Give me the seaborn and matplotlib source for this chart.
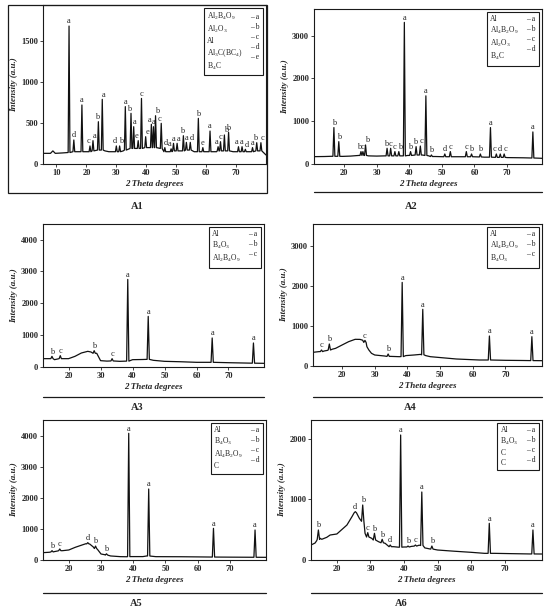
import pandas as pd
import matplotlib.pyplot as plt
import seaborn as sns
from matplotlib.lines import Line2D
from matplotlib.patches import Rectangle

# ---- A1 ----
a1_bg_x = [5.5, 8.0, 8.8, 9.6, 12.0, 13.6, 16.6, 17.6, 19.6, 20.6, 26.2, 27.5, 29.0, 29.5, 32.3, 46.9, 47.6, 51.0, 56.0, 59.6, 60.5, 62.2, 63.5, 69.0, 70.2, 74.5, 80.0]
a1_bg_y = [130, 130, 160, 130, 135, 140, 150, 150, 150, 150, 160, 150, 150, 150, 160, 150, 150, 160, 150, 150, 150, 150, 150, 150, 150, 150, 110]
a1_pk_x = [14.2, 15.8, 18.5, 21.2, 22.2, 24.0, 25.3, 30.0, 31.1, 33.0, 34.9, 35.8, 37.3, 38.4, 39.8, 41.7, 42.4, 43.1, 45.0, 46.2,
           48.3, 49.1, 50.3, 52.4, 53.4, 54.7, 57.4, 58.9, 61.3, 64.0, 64.8, 66.1, 67.5, 70.8, 72.0, 73.1, 75.5, 76.9, 78.3]
a1_pk_h = [1683, 293, 720, 220, 285, 516, 789, 220, 220, 700, 618, 455, 285, 800, 333, 484, 455, 589, 496, 200,
           185, 252, 252, 345, 264, 264, 557, 200, 402, 211, 272, 354, 386, 211, 211, 179, 200, 260, 260]
a1_pk_base = [140, 150, 150, 150, 160, 170, 170, 150, 150, 170, 190, 190, 190, 190, 200, 200, 200, 200, 190, 150,
              150, 160, 160, 160, 170, 170, 150, 150, 150, 160, 160, 160, 160, 150, 150, 150, 150, 160, 160]
a1_pk_lab = ['a', 'd', 'a', 'c', 'a', 'b', 'a', 'd', 'b', 'a', 'b', 'a', 'e', 'c', 'e', 'a', 'a', 'b', 'c', 'd',
             'a', 'a', 'a', 'b', 'a', 'd', 'b', 'e', 'a', 'a', 'c', 'b', 'b', 'a', 'a', 'd', 'a', 'b', 'c']
a1_phases = ['Al$_2$B$_4$O$_9$', 'Al$_2$O$_3$', 'Al', 'Al$_3$C(BC$_4$)', 'B$_4$C']
a1_codes = ['a', 'b', 'c', 'd', 'e']

# ---- A2 ----
a2_bg_x = [10.8, 14.0, 16.0, 19.5, 22.0, 24.5, 27.5, 30.0, 32.5, 37.5, 39.5, 44.0, 46.0, 48.0, 55.0, 63.0, 70.0, 75.0, 80.7]
a2_bg_y = [172, 175, 180, 178, 185, 200, 190, 185, 190, 190, 200, 210, 190, 175, 170, 160, 150, 145, 133]
a2_pk_x = [16.9, 18.4, 25.2, 25.8, 26.6, 33.2, 34.3, 35.6, 36.8, 38.5, 40.4, 42.1, 43.4, 45.1, 46.8, 50.9, 52.6,
           57.5, 59.1, 61.8, 64.9, 66.7, 67.9, 69.1, 77.9]
a2_pk_h = [852, 523, 290, 290, 445, 367, 367, 290, 290, 3312, 290, 406, 420, 1594, 211, 234, 290,
           290, 234, 234, 852, 234, 234, 234, 750]
a2_pk_base = [180, 180, 200, 200, 200, 190, 190, 190, 190, 190, 200, 210, 210, 200, 175, 170, 170,
              170, 170, 165, 160, 155, 155, 155, 140]
a2_pk_lab = ['b', 'b', 'b', 'c', 'b', 'b', 'c', 'c', 'b', 'a', 'b', 'b', 'c', 'a', 'b', 'd', 'c',
             'c', 'b', 'b', 'a', 'c', 'd', 'c', 'a']
a2_phases = ['Al', 'Al$_4$B$_2$O$_9$', 'Al$_2$O$_3$', 'B$_4$C']
a2_codes = ['a', 'b', 'c', 'd']

# ---- A3 ----
a3_bg_x = [12.0, 14.0, 15.6, 16.5, 18.5, 20.0, 22.0, 24.0, 26.0, 27.0, 28.8, 30.0, 32.0, 36.0, 40.0, 43.0, 46.5, 50.0, 55.0, 60.0, 70.0, 75.0, 81.1]
a3_bg_y = [262, 262, 230, 250, 262, 262, 335, 440, 492, 471, 430, 199, 185, 178, 230, 235, 210, 178, 165, 147, 135, 125, 115]
a3_pk_x = [14.8, 17.4, 28.0, 33.6, 38.5, 44.9, 64.9, 77.8]
a3_pk_h = [335, 356, 513, 262, 2750, 1590, 911, 754]
a3_pk_base = [262, 262, 430, 190, 185, 240, 147, 120]
a3_pk_lab = ['b', 'c', 'b', 'c', 'a', 'a', 'a', 'a']
a3_phases = ['Al', 'B$_4$O$_3$', 'Al$_2$B$_4$O$_9$']
a3_codes = ['a', 'b', 'c']

# ---- A4 ----
a4_bg_x = [11.1, 13.0, 14.5, 15.5, 17.0, 18.0, 20.0, 22.0, 24.0, 25.5, 26.3, 27.6, 28.2, 29.0, 30.0, 33.0, 35.0, 37.5,
           39.5, 42.0, 44.0, 45.6, 47.0, 55.0, 62.0, 70.0, 75.0, 81.2]
a4_bg_y = [342, 360, 375, 390, 420, 441, 525, 608, 667, 665, 645, 483, 400, 317, 275, 250, 240, 233,
           260, 275, 290, 260, 233, 175, 150, 142, 138, 133]
a4_pk_x = [13.7, 16.1, 27.0, 34.1, 38.4, 44.7, 65.1, 78.1]
a4_pk_h = [400, 550, 640, 300, 2090, 1417, 750, 733]
a4_pk_base = [360, 400, 590, 240, 235, 280, 150, 135]
a4_pk_lab = ['c', 'b', 'c', 'b', 'a', 'a', 'a', 'a']
a4_phases = ['Al', 'Al$_4$B$_2$O$_9$', 'B$_4$O$_3$']
a4_codes = ['a', 'b', 'c']

# ---- A5 ----
a5_bg_x = [12.0, 14.0, 15.5, 16.5, 18.0, 20.0, 22.0, 24.0, 25.3, 26.5, 27.6, 29.0, 30.0, 31.2, 32.3, 33.0, 36.0, 38.0,
           39.3, 43.0, 44.2, 45.4, 47.0, 55.0, 60.0, 70.0, 81.2]
a5_bg_y = [237, 250, 270, 290, 300, 323, 409, 480, 525, 515, 420, 330, 194, 170, 150, 130, 108, 105,
           110, 110, 130, 125, 108, 105, 100, 92, 86]
a5_pk_x = [14.8, 17.2, 25.9, 28.3, 31.7, 38.6, 44.8, 64.9, 77.8]
a5_pk_h = [301, 355, 559, 450, 200, 4086, 2290, 1021, 968]
a5_pk_base = [260, 300, 520, 370, 160, 108, 130, 95, 88]
a5_pk_lab = ['b', 'c', 'd', 'b', 'b', 'a', 'a', 'a', 'a']
a5_phases = ['Al', 'B$_4$O$_3$', 'Al$_4$B$_2$O$_9$', 'C']
a5_codes = ['a', 'b', 'c', 'd']

# ---- A6 ----
a6_bg_x = [12.3, 13.5, 14.0, 15.0, 15.5, 17.0, 18.0, 20.0, 23.0, 24.5, 26.7, 28.4, 30.4, 32.4, 34.4, 36.9, 38.3,
           40.0, 42.2, 44.5, 46.2, 47.5, 50.0, 55.0, 60.0, 64.0, 67.0, 72.0, 77.5, 81.1]
a6_bg_y = [248, 280, 320, 360, 342, 375, 413, 430, 578, 716, 689, 441, 358, 303, 275, 220, 212,
           215, 225, 245, 200, 185, 165, 145, 127, 110, 110, 105, 100, 99]
a6_pk_x = [14.5, 25.5, 27.7, 29.2, 31.2, 33.5, 35.9, 39.0, 41.2, 43.4, 45.3, 48.3, 65.4, 78.4]
a6_pk_h = [496, 799, 909, 452, 441, 342, 248, 2066, 231, 248, 1124, 231, 606, 496]
a6_pk_base = [340, 780, 640, 380, 330, 285, 220, 212, 215, 230, 240, 180, 110, 100]
a6_pk_lab = ['b', 'd', 'b', 'c', 'b', 'b', 'd', 'a', 'b', 'c', 'a', 'b', 'a', 'a']
a6_phases = ['Al', 'B$_4$O$_3$', 'C', 'C']
a6_codes = ['a', 'b', 'c', 'd']

sns.set_theme(style="white")
plt.rcParams['font.family'] = ['Liberation Serif', 'DejaVu Serif']
plt.rcParams['mathtext.default'] = 'regular'
plt.rcParams['axes.linewidth'] = 0.8

W, H = 550, 614
fig = plt.figure(figsize=(W / 100, H / 100), dpi=100)


def px_axes(left, top, right, bottom):
    return fig.add_axes([left / W, 1 - bottom / H, (right - left) / W, (bottom - top) / H])


def trace(bg_x, bg_y, pk_x, pk_h, pk_base, w):
    # background points plus a narrow triangle for every peak
    pts = [(x, y) for x, y in zip(bg_x, bg_y) if all(abs(x - p) > w for p in pk_x)]
    for p, h, b in zip(pk_x, pk_h, pk_base):
        pts += [(p - w, b), (p, h), (p + w, b)]
    pts.sort()
    return pd.DataFrame(pts, columns=['two_theta', 'intensity'])


def draw(ax, bg_x, bg_y, pk_x, pk_h, pk_base, pk_lab, phases, codes, xlim, ylim, xticks, yticks, w=0.35):
    df = trace(bg_x, bg_y, pk_x, pk_h, pk_base, w)
    sns.lineplot(data=df, x='two_theta', y='intensity', ax=ax, color='#111111',
                 lw=0.9, sort=False, estimator=None)
    # spread labels of neighbouring peaks a little
    dx = [0.0] * len(pk_x)
    for i in range(len(pk_x) - 1):
        if pk_x[i + 1] - pk_x[i] < 1.4:
            dx[i] -= 1.0
            dx[i + 1] += 1.0
    for p, h, lab, d in zip(pk_x, pk_h, pk_lab, dx):
        ax.annotate(lab, (p, h), xytext=(d, 0.5), textcoords='offset points',
                    ha='center', va='bottom', fontsize=6)
    ax.set_xlim(*xlim)
    ax.set_ylim(*ylim)
    ax.set_xticks(xticks)
    ax.set_yticks(yticks)
    ax.tick_params(direction='out', length=2, width=0.6, pad=1.5, labelsize=6,
                   bottom=True, left=True)
    for lbl in ax.get_xticklabels() + ax.get_yticklabels():
        lbl.set_fontweight('bold')
    for s in ax.spines.values():
        s.set_color('#1a1a1a')
    ax.set_xlabel('2 Theta degrees', fontsize=6.5, fontweight='bold', fontstyle='italic', labelpad=2)
    ax.set_ylabel('Intensity (a.u.)', fontsize=6.5, fontweight='bold', fontstyle='italic', labelpad=2)
    handles = [Line2D([], [], ls='none') for _ in range(2 * len(phases))]
    leg = ax.legend(handles, phases + ['– ' + c for c in codes], ncol=2, loc='upper right',
                    handlelength=0, handletextpad=0, columnspacing=1.0, fontsize=5.5,
                    labelspacing=0.25, borderpad=0.45, borderaxespad=0.35,
                    frameon=True, fancybox=False, framealpha=1)
    leg.get_frame().set_edgecolor('#1a1a1a')
    leg.get_frame().set_linewidth(0.8)


x10 = [10, 20, 30, 40, 50, 60, 70]
x20 = [20, 30, 40, 50, 60, 70]

ax1 = px_axes(43, 5, 266, 164)
draw(ax1, a1_bg_x, a1_bg_y, a1_pk_x, a1_pk_h, a1_pk_base, a1_pk_lab, a1_phases, a1_codes,
     (5.5, 80), (0, 1940), x10, [0, 500, 1000, 1500], w=0.3)
ax2 = px_axes(314, 9, 542, 164)
draw(ax2, a2_bg_x, a2_bg_y, a2_pk_x, a2_pk_h, a2_pk_base, a2_pk_lab, a2_phases, a2_codes,
     (10.8, 80.7), (0, 3625), x20, [0, 1000, 2000, 3000], w=0.3)
ax3 = px_axes(43, 224, 264, 367)
draw(ax3, a3_bg_x, a3_bg_y, a3_pk_x, a3_pk_h, a3_pk_base, a3_pk_lab, a3_phases, a3_codes,
     (12, 81.1), (0, 4490), x20, [0, 1000, 2000, 3000, 4000])
ax4 = px_axes(313, 224, 542, 366)
draw(ax4, a4_bg_x, a4_bg_y, a4_pk_x, a4_pk_h, a4_pk_base, a4_pk_lab, a4_phases, a4_codes,
     (11.1, 81.2), (0, 3550), x20, [0, 1000, 2000, 3000])
ax5 = px_axes(43, 420, 266, 560)
draw(ax5, a5_bg_x, a5_bg_y, a5_pk_x, a5_pk_h, a5_pk_base, a5_pk_lab, a5_phases, a5_codes,
     (12, 81.2), (0, 4516), x20, [0, 1000, 2000, 3000, 4000])
ax6 = px_axes(311, 420, 542, 560)
draw(ax6, a6_bg_x, a6_bg_y, a6_pk_x, a6_pk_h, a6_pk_base, a6_pk_lab, a6_phases, a6_codes,
     (12.3, 81.1), (0, 2314), x20, [0, 1000, 2000])

# outer frame of A1 and rules under the other panels
fig.add_artist(Rectangle((7.5 / W, 1 - 193 / H), (267 - 7.5) / W, (193 - 5) / H,
                         transform=fig.transFigure, fill=False, lw=0.9, ec='#1a1a1a'))
for x0, x1, y in [(314, 542, 192), (43, 264, 396.7), (313, 542, 396.7), (43, 266, 592.7), (311, 542, 592.7)]:
    fig.add_artist(Line2D([x0 / W, x1 / W], [1 - y / H, 1 - y / H], transform=fig.transFigure,
                          lw=0.9, color='#1a1a1a'))

for name, x, y in [('A1', 137, 207), ('A2', 411, 207), ('A3', 137, 408), ('A4', 410, 408),
                   ('A5', 136, 603), ('A6', 401, 603)]:
    fig.text(x / W, 1 - y / H, name, ha='center', va='center', fontsize=7.5, fontweight='bold')

fig.savefig('out.png', dpi=100)
